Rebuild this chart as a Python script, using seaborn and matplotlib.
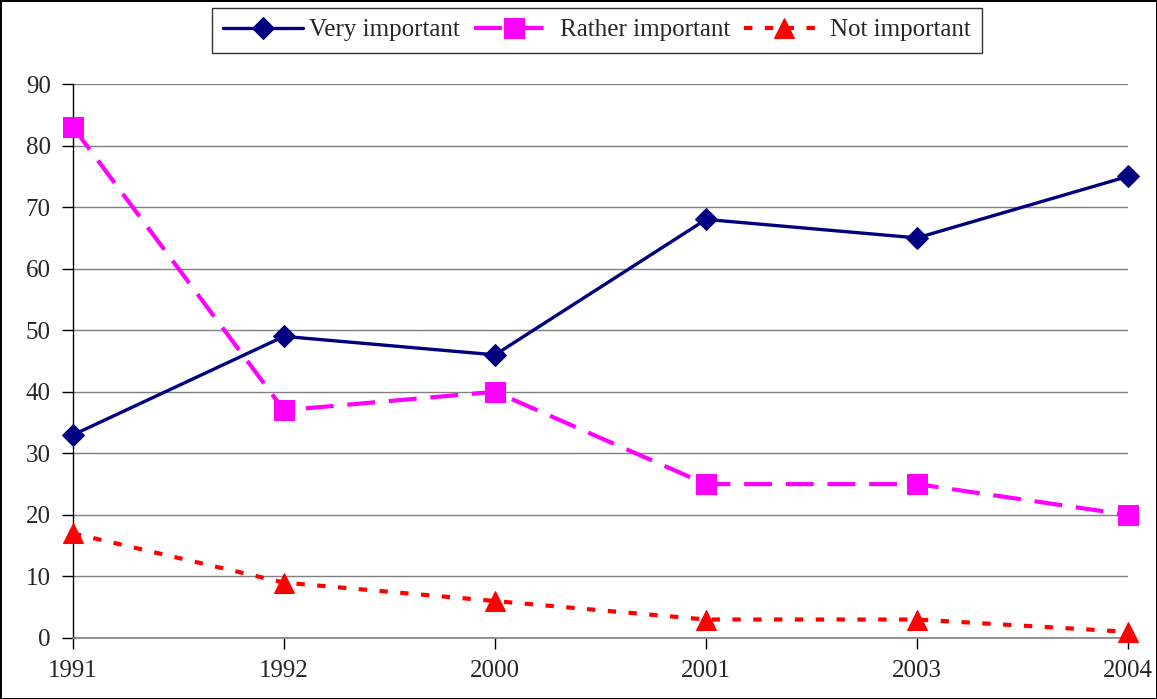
import matplotlib
matplotlib.use("Agg")
import matplotlib.pyplot as plt
import numpy as np
import pandas as pd
import seaborn as sns

YEARS = ["1991", "1992", "2000", "2001", "2003", "2004"]
VERY_IMPORTANT = [33, 49, 46, 68, 65, 75]
RATHER_IMPORTANT = [83, 37, 40, 25, 25, 20]
NOT_IMPORTANT = [17, 9, 6, 3, 3, 1]

# label, values, colour, marker, line style, marker size, line width
SERIES = [
    ("Very important", VERY_IMPORTANT, "#000080", "D", "-", 11.5, 2.4),
    ("Rather important", RATHER_IMPORTANT, "#FF00FF", "s", (0, (6.7, 3.3)), 14.5, 3.0),
    ("Not important", NOT_IMPORTANT, "#FF0000", "^", (0, (2.0, 3.0)), 15, 3.0),
]

sns.set_style("white")
plt.rcParams["font.family"] = ["Liberation Serif", "DejaVu Serif"]

fig = plt.figure(figsize=(11.57, 6.99), dpi=100)
fig.patch.set_edgecolor("black")
fig.patch.set_linewidth(2)
ax = fig.add_axes([0.0631, 0.0873, 0.9119, 0.7925])

pos = np.arange(len(YEARS))
for label, values, color, marker, ls, ms, lw in SERIES:
    df = pd.DataFrame({"pos": pos, "value": values})
    sns.lineplot(
        data=df, x="pos", y="value", ax=ax, color=color, marker=marker,
        markersize=ms, markeredgecolor=color, linewidth=lw, label=label,
        linestyle=ls, clip_on=False, zorder=3,
    )

ax.set_xlim(0, len(YEARS) - 1)
ax.set_ylim(0, 90)
ax.set_yticks(range(0, 91, 10))
ax.set_xticks(pos)
ax.set_xticklabels(YEARS)
ax.set_xlabel("")
ax.set_ylabel("")
ax.yaxis.grid(True, color="#808080", linewidth=1)
ax.xaxis.grid(False)
for side in ("top", "right"):
    ax.spines[side].set_visible(False)
ax.spines["left"].set_color("black")
ax.spines["left"].set_linewidth(1)
ax.spines["bottom"].set_color("#808080")
ax.spines["bottom"].set_linewidth(1.2)
ax.tick_params(axis="y", direction="out", length=8, width=1, color="black",
               labelsize=18, pad=8, left=True)
ax.tick_params(axis="x", direction="out", length=8, width=1, color="black",
               labelsize=18, pad=8, bottom=True)

ax.legend_.remove()
handles, labels = ax.get_legend_handles_labels()
leg = fig.legend(
    handles, labels, loc="center", bbox_to_anchor=(0.516, 0.957), ncol=3,
    fontsize=18, frameon=True, fancybox=False, edgecolor="black",
    handlelength=3.2, columnspacing=0.55, handletextpad=0.25, borderpad=0.45,
)
leg.get_frame().set_linewidth(1)

fig.savefig("out.png", dpi=100)
